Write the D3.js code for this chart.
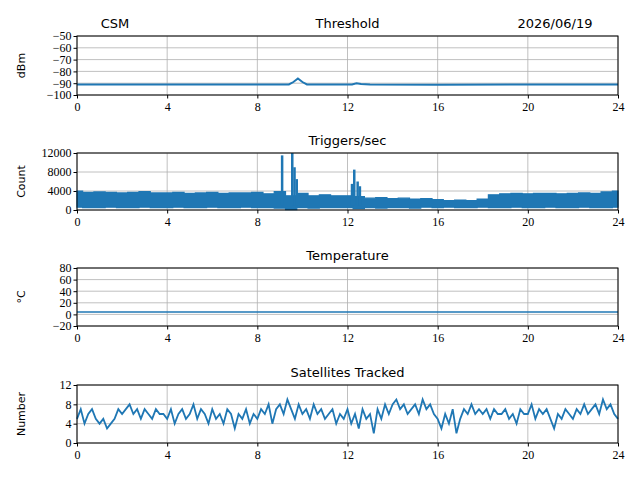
<!DOCTYPE html>
<html><head><meta charset="utf-8">
<script src="https://cdn.jsdelivr.net/npm/d3@7"></script>
<style>
body{margin:0;background:#fff}
.tick text{font-family:"Liberation Serif",serif;font-size:12px;fill:#000}
.ttl{font-family:"DejaVu Sans",sans-serif;font-size:13px}
.lbl{font-family:"DejaVu Sans",sans-serif;font-size:11px}
</style></head><body>
<svg id="fig" width="640" height="480"></svg>
<script>
// threshold (hour, dBm)
var thrHours = [0,4,8,9.4,9.6,9.8,10.0,10.2,12.2,12.4,12.6,13,16,20,24];
var thrVals  = [-91,-91,-91,-91,-89,-86,-89,-91,-91,-90,-90.7,-91,-91.3,-91,-91];

// triggers envelope, every half hour
var trigHours = d3.range(0, 24.01, 0.5);
var trigHigh = [4000,3700,3800,3700,3600,3700,3900,3600,3600,3700,3500,3600,3700,3500,3600,3600,3700,3400,3900,3000,3500,3000,3200,3000,
                3000,2800,2500,2600,2400,2500,2300,2400,2200,2000,2100,2000,2300,3200,3400,3500,3400,3500,3500,3400,3500,3600,3500,3800,4000];
var trigLow  = [600,500,500,600,500,500,600,500,500,600,500,500,600,500,500,600,500,500,400,100,500,400,500,500,
                500,300,500,400,500,500,400,600,500,600,500,500,600,500,500,600,500,500,600,500,500,600,500,500,600];
var spikeHours = [9.1,9.55,9.65,9.75,12.2,12.3,12.45,12.55];
var spikeVals  = [11500,12000,9000,6500,5500,8500,6000,5000];

// temperature
var tempHours = [0,24];
var tempVals = [4,4];

// satellites, every 10 min
var satVals = [5,7,4,6,7,5, 4,5,3,4,5,7, 6,7,8,6,7,5, 7,6,5,7,6,6, 5,7,4,6,7,5, 6,8,5,7,6,4,
  7,5,6,4,7,6, 3,6,5,7,4,6, 5,7,6,8,4,7, 8,6,9,7,5,8, 6,7,5,8,6,7, 5,6,7,4,6,5,
  7,4,6,3,7,5, 6,2,7,5,8,6, 8,9,7,8,6,7, 8,6,9,7,8,6, 5,3,6,4,7,2, 5,7,6,8,6,7,
  6,7,5,7,6,6, 7,5,6,4,7,6, 6,8,5,7,6,7, 5,3,6,5,7,6, 5,7,6,8,6,7, 8,6,9,7,8,6,5];

var xTicks = [0,4,8,12,16,20,24];
var blue = "#1f77b4";
var svg = d3.select("#fig");
var left = 77, right = 618;
var x = d3.scaleLinear().domain([0,24]).range([left,right]);

function panel(top, bottom, dom, ticks, title, ylab) {
  var y = d3.scaleLinear().domain(dom).range([bottom, top]);
  var g = svg.append("g");
  // grid
  g.selectAll(".gx").data(xTicks).enter().append("line")
    .attr("x1", d => x(d)).attr("x2", d => x(d)).attr("y1", top).attr("y2", bottom)
    .attr("stroke", "#b0b0b0").attr("stroke-width", 0.8);
  g.selectAll(".gy").data(ticks).enter().append("line")
    .attr("x1", left).attr("x2", right).attr("y1", d => y(d)).attr("y2", d => y(d))
    .attr("stroke", "#b0b0b0").attr("stroke-width", 0.8);
  var xa = svg.append("g").attr("transform", `translate(0,${bottom})`)
    .call(d3.axisBottom(x).tickValues(xTicks).tickSize(3.5).tickPadding(4));
  var ya = svg.append("g").attr("transform", `translate(${left},0)`)
    .call(d3.axisLeft(y).tickValues(ticks).tickSize(3.5).tickPadding(2).tickFormat(d => d < 0 ? "\u2212" + (-d) : d));
  [xa, ya].forEach(a => { a.select(".domain").remove(); a.selectAll("line").attr("stroke", "#000"); });
  svg.append("text").attr("class", "ttl").attr("x", (left + right) / 2).attr("y", top - 8)
    .attr("text-anchor", "middle").text(title);
  svg.append("text").attr("class", "lbl")
    .attr("transform", `translate(25,${(top + bottom) / 2}) rotate(-90)`)
    .attr("text-anchor", "middle").text(ylab);
  return {y: y, top: top, bottom: bottom};
}

function frame(p) {
  svg.append("rect").attr("x", left).attr("y", p.top).attr("width", right - left)
    .attr("height", p.bottom - p.top).attr("fill", "none").attr("stroke", "#000").attr("stroke-width", 1);
}

// panel 1
var p1 = panel(36, 95, [-100,-50], [-100,-90,-80,-70,-60,-50], "Threshold", "dBm");
svg.append("path").datum(thrHours.map((h,i) => [h, thrVals[i]]))
  .attr("d", d3.line().x(d => x(d[0])).y(d => p1.y(d[1])))
  .attr("fill", "none").attr("stroke", blue).attr("stroke-width", 2);
frame(p1);
svg.append("text").attr("class", "ttl").attr("x", 115).attr("y", 28).attr("text-anchor", "middle").text("CSM");
svg.append("text").attr("class", "ttl").attr("x", 555).attr("y", 28).attr("text-anchor", "middle").text("2026/06/19");

// panel 2
var p2 = panel(153, 210, [0,12000], [0,4000,8000,12000], "Triggers/sec", "Count");
svg.append("path").datum(trigHours.map((h,i) => [h, trigLow[i], trigHigh[i]]))
  .attr("d", d3.area().curve(d3.curveStep).x(d => x(d[0])).y0(d => p2.y(d[1])).y1(d => p2.y(d[2])))
  .attr("fill", blue).attr("stroke", blue).attr("stroke-width", 1.2);
svg.selectAll(".spk").data(spikeHours.map((h,i) => [h, spikeVals[i]])).enter().append("line")
  .attr("x1", d => x(d[0])).attr("x2", d => x(d[0])).attr("y1", p2.y(1000)).attr("y2", d => p2.y(d[1]))
  .attr("stroke", blue).attr("stroke-width", 2.5);
frame(p2);

// panel 3
var p3 = panel(268, 326, [-20,80], [-20,0,20,40,60,80], "Temperature", "\u00B0C");
svg.append("path").datum(tempHours.map((h,i) => [h, tempVals[i]]))
  .attr("d", d3.line().x(d => x(d[0])).y(d => p3.y(d[1])))
  .attr("fill", "none").attr("stroke", blue).attr("stroke-width", 1.5);
frame(p3);

// panel 4
var p4 = panel(385, 443, [0,12], [0,4,8,12], "Satellites Tracked", "Number");
svg.append("path").datum(satVals.map((v,i) => [Math.min(i / 6, 24), v]))
  .attr("d", d3.line().x(d => x(d[0])).y(d => p4.y(d[1])))
  .attr("fill", "none").attr("stroke", blue).attr("stroke-width", 1.8);
frame(p4);
</script>
</body></html>
